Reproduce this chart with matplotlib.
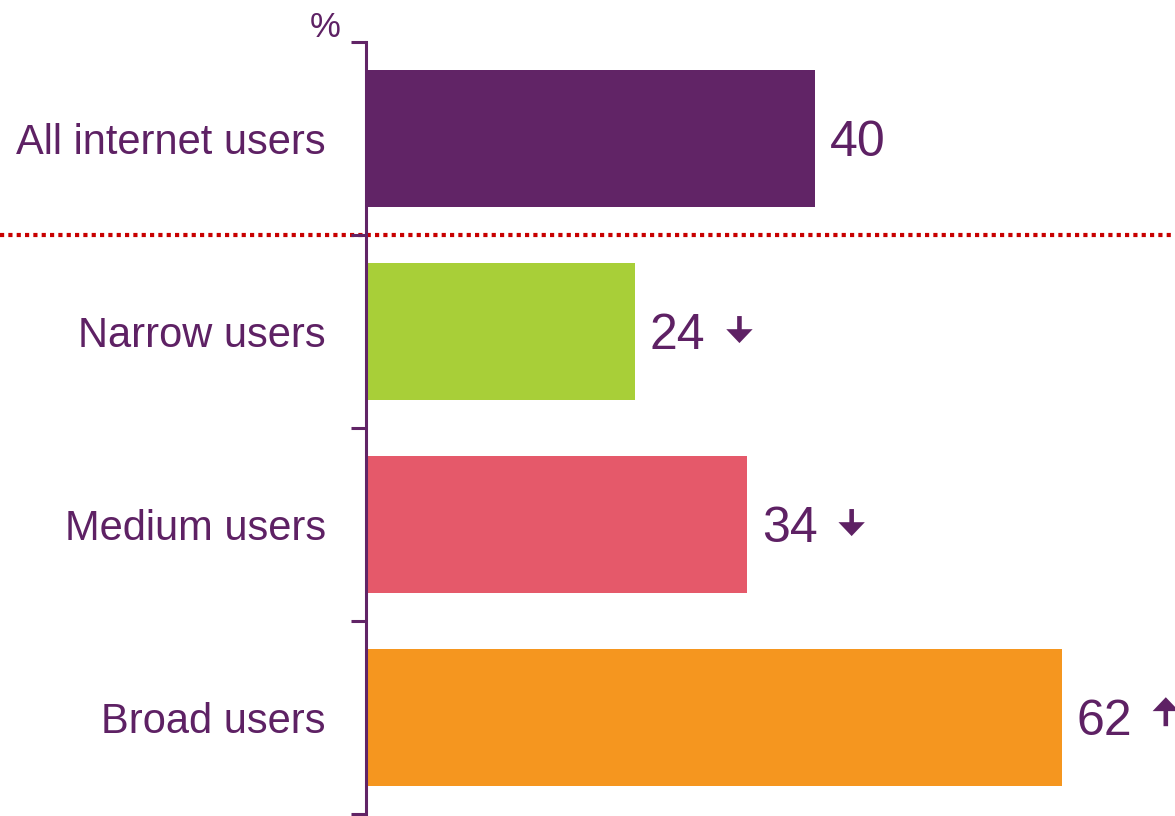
import matplotlib
matplotlib.use("Agg")
import matplotlib.pyplot as plt
from matplotlib import transforms

categories = ["All internet users", "Narrow users", "Medium users", "Broad users"]
values = [40, 24, 34, 62]
changes = ["", "down", "down", "up"]
bar_colors = ["#612466", "#A8CF38", "#E5596A", "#F5961F"]

purple = "#5E2164"
plt.rcParams["font.family"] = ["Liberation Sans", "DejaVu Sans"]

fig = plt.figure(figsize=(11.75, 8.16), dpi=100)
ax = fig.add_axes([366 / 1175, 2 / 816, 1 - 366 / 1175, (814 - 42) / 816])

ypos = list(range(len(categories)))
ax.barh(ypos, values, height=0.71, color=bar_colors, zorder=2)

ax.set_xlim(0, (1175 - 366) / 11.22)
ax.set_ylim(len(categories) - 0.5, -0.5)

for s in ["top", "right", "bottom"]:
    ax.spines[s].set_visible(False)
ax.spines["left"].set_color("#612466")
ax.spines["left"].set_linewidth(2.2)
ax.set_xticks([])

ax.set_yticks(ypos)
ax.set_yticklabels(categories, fontsize=30, color=purple)
ax.tick_params(axis="y", which="major", length=0, pad=29)
ax.set_yticks([i - 0.5 for i in range(len(categories) + 1)], minor=True)
ax.tick_params(axis="y", which="minor", length=11, width=2.2, color="#612466")

for i, (v, ch) in enumerate(zip(values, changes)):
    ax.annotate(str(v), xy=(v, i), xytext=(10.5, -3.5), textcoords="offset points",
                ha="left", va="center", fontsize=36, color=purple)
    if ch:
        tr = transforms.offset_copy(ax.transData, fig=fig, x=75, y=0, units="points")
        if ch == "down":
            tail, tip = (v, i - 0.08), (v, i + 0.06)
        else:
            tail, tip = (v, i + 0.045), (v, i - 0.105)
        ax.annotate("", xy=tip, xycoords=tr, xytext=tail, textcoords=tr,
                    arrowprops=dict(width=3.3, headwidth=19, headlength=10, shrink=0,
                                    color=purple, lw=0),
                    annotation_clip=False)

blend = transforms.blended_transform_factory(fig.transFigure, ax.transData)
ax.plot([0, 1], [0.5, 0.5], transform=blend, color="#C80000", lw=3,
        linestyle=(0, (1, 1)), clip_on=False, zorder=1)

fig.text(341 / 1175, 1 - 37 / 816, "%", ha="right", va="baseline", fontsize=25, color=purple)

fig.savefig("out.png", dpi=100)
